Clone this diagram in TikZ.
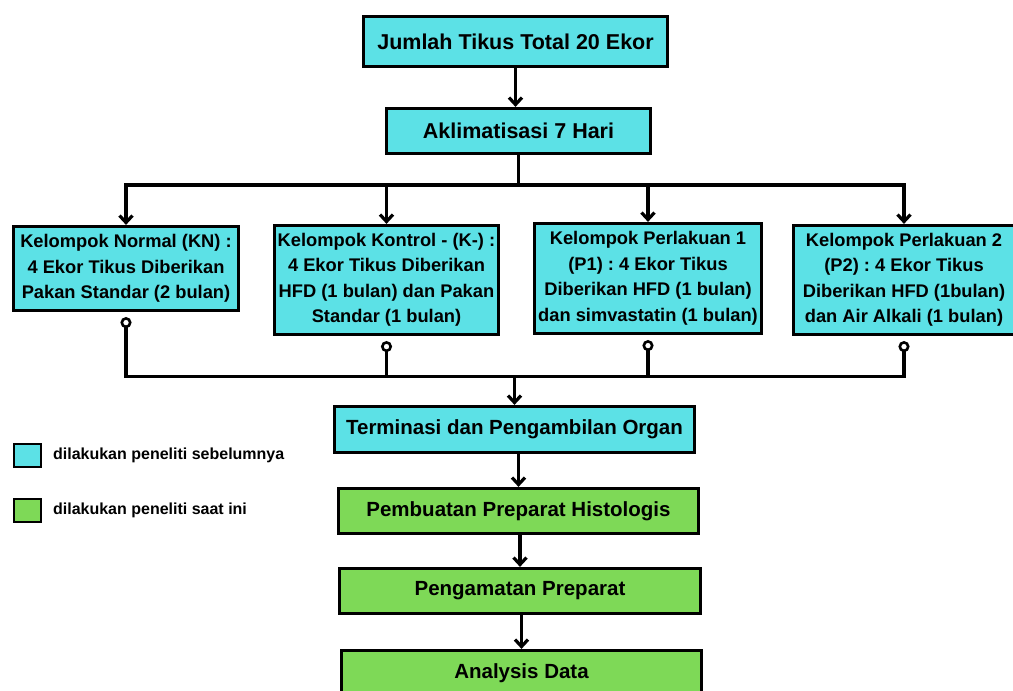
\documentclass[tikz,border=0pt]{standalone}
\usepackage{fontspec}
\setmainfont{Liberation Sans}
\usetikzlibrary{arrows.meta, positioning}

\definecolor{prevcol}{HTML}{5CE1E6}
\definecolor{nowcol}{HTML}{7ED957}
\frenchspacing

\begin{document}
\begin{tikzpicture}[x=1pt, y=1pt,
  box/.style={draw, line width=3.2pt, inner sep=0pt, align=center},
  big/.style={box, fill=prevcol, font=\fontsize{21.5}{26}\selectfont\bfseries},
  grp/.style={box, fill=prevcol, font=\fontsize{18.3}{25.5}\selectfont\bfseries},
  stage/.style={box, font=\fontsize{20.5}{25}\selectfont\bfseries},
  arr/.style={-{Straight Barb[length=7pt, width=13pt]}, line width=3.2pt},
  link/.style={line width=3.2pt},
  dot/.style={{Circle[open, length=11pt, width=11pt, line width=2.6pt]}-},
  legsq/.style={draw, line width=1.8pt, minimum width=27pt, minimum height=23pt, inner sep=0pt},
  legtxt/.style={font=\fontsize{16}{19}\selectfont\bfseries, inner sep=0pt}]
  \useasboundingbox (0,0) rectangle (1013,691);
  \clip (0,0) rectangle (1013,691);

  % alur utama
  \node[big, minimum width=304, minimum height=50] (total) at (515.5,649.5) {Jumlah Tikus Total 20 Ekor};
  \node[big, minimum width=264, minimum height=45] (akl) at (518.5,560) {Aklimatisasi 7 Hari};

  % empat kelompok
  \node[grp, minimum width=225, minimum height=84] (kn) at (126,422.5)
    {Kelompok Normal (KN) :\\4 Ekor Tikus Diberikan\\Pakan Standar (2 bulan)};
  \node[grp, minimum width=224, minimum height=109] (kmin) at (386.5,411)
    {Kelompok Kontrol - (K-) :\\4 Ekor Tikus Diberikan\\HFD (1 bulan) dan Pakan\\Standar (1 bulan)};
  \node[grp, minimum width=227, minimum height=110] (p1) at (648,412.5)
    {Kelompok Perlakuan 1\\(P1) : 4 Ekor Tikus\\Diberikan HFD (1 bulan)\\dan simvastatin (1 bulan)};
  \node[grp, minimum width=221, minimum height=109] (p2) at (904,411)
    {Kelompok Perlakuan 2\\(P2) : 4 Ekor Tikus\\Diberikan HFD (1bulan)\\dan Air Alkali (1 bulan)};

  \node[stage, fill=prevcol, minimum width=360, minimum height=46] (term) at (514.5,261.5) {Terminasi dan Pengambilan Organ};
  \node[stage, fill=nowcol, minimum width=360, minimum height=45] (pemb) at (518.5,180) {Pembuatan Preparat Histologis};
  \node[stage, fill=nowcol, minimum width=361, minimum height=45] (peng) at (520,100) {Pengamatan Preparat};
  \node[stage, fill=nowcol, minimum width=360, minimum height=45] (anal) at (521.5,18) {Analysis Data};

  % keterangan
  \node[legsq, fill=prevcol] (prevkey) at (27.5,235.5) {};
  \node[legtxt, right=11pt of prevkey] (prevtxt) {dilakukan peneliti sebelumnya};
  \node[legsq, fill=nowcol] (nowkey) at (27.5,180.5) {};
  \node[legtxt, right=11pt of nowkey] (nowtxt) {dilakukan peneliti saat ini};

  % panah
  \draw[arr] (total.south) -- (total.south |- akl.north);
  \coordinate (split) at ([yshift=-30]akl.south);
  \draw[link] (akl.south) -- (split);
  \foreach \g in {kn, kmin, p1, p2}
    \draw[arr] (split) -| (\g.north);

  \coordinate (merge) at ([yshift=28]term.north);
  \foreach \g in {kn, kmin, p1, p2}
    \draw[link, dot] ([yshift=-5]\g.south) |- (merge);
  \draw[arr] (merge) -- (term.north);

  \draw[arr] (pemb.north |- term.south) -- (pemb.north);
  \draw[arr] (peng.north |- pemb.south) -- (peng.north);
  \draw[arr] (anal.north |- peng.south) -- (anal.north);
\end{tikzpicture}
\end{document}
